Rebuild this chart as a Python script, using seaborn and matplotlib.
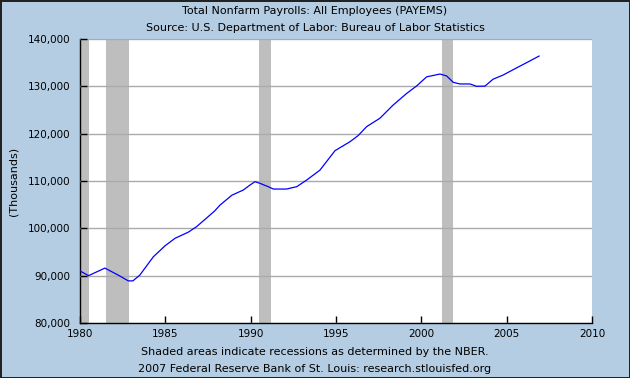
import matplotlib
matplotlib.use("Agg")
import matplotlib.pyplot as plt
import matplotlib.ticker as mticker
import seaborn as sns
import pandas as pd

# Payroll employment (thousands)
years = [1980.0, 1980.5, 1981.46, 1982.25, 1982.83, 1983.1, 1983.5, 1984.3, 1984.98,
         1985.57, 1986.35, 1986.83, 1987.52, 1987.9, 1988.2, 1988.9, 1989.57, 1989.96,
         1990.25, 1990.55, 1991.03, 1991.33, 1992.1, 1992.7, 1993.28, 1994.06, 1994.94,
         1995.33, 1995.82, 1996.3, 1996.8, 1997.57, 1998.35, 1999.14, 1999.72, 2000.31,
         2001.09, 2001.48, 2001.87, 2002.26, 2002.85, 2003.24, 2003.73, 2004.2, 2004.8,
         2005.58, 2006.17, 2006.9]
payems = [91.0, 90.0, 91.6, 90.1, 88.9, 88.9, 90.1, 94.0, 96.3,
          97.9, 99.2, 100.35, 102.5, 103.7, 104.9, 107.0, 108.1, 109.15,
          109.85, 109.5, 108.8, 108.3, 108.3, 108.8, 110.2, 112.3, 116.4,
          117.25, 118.3, 119.6, 121.5, 123.25, 126.05, 128.5, 130.07, 132.0,
          132.6, 132.2, 130.85, 130.5, 130.5, 130.0, 130.05, 131.5, 132.4,
          133.9, 135.0, 136.4]
payems = [v * 1000 for v in payems]

# NBER recessions (start, end)
rec_start = [1980.0, 1981.5, 1990.5, 2001.2]
rec_end = [1980.5, 1982.85, 1991.2, 2001.87]

df = pd.DataFrame({"year": years, "payems": payems})

bg = "#b4cde3"
plt.rcParams["font.family"] = ["DejaVu Sans"]
fig = plt.figure(figsize=(6.3, 3.78), dpi=100, facecolor=bg)
fig.patch.set_edgecolor("#222222")
fig.patch.set_linewidth(1)
ax = fig.add_axes([80 / 630, 1 - 323 / 378, 512 / 630, 284 / 378])
ax.set_facecolor("white")

for s, e in zip(rec_start, rec_end):
    ax.axvspan(s, e, color="#bebebe", lw=0, zorder=1)

ax.set_ylim(80000, 140000)
ax.set_xlim(1980, 2010)
ax.yaxis.set_major_locator(mticker.MultipleLocator(10000))
ax.xaxis.set_major_locator(mticker.MultipleLocator(5))
ax.grid(axis="y", color="#aaaaaa", lw=1, zorder=2)
ax.set_axisbelow(False)

sns.lineplot(data=df, x="year", y="payems", ax=ax, color="#0000ff", lw=0.9, zorder=3)

ax.yaxis.set_major_formatter(mticker.FuncFormatter(lambda v, p: f"{int(v):,}"))
ax.tick_params(direction="in", length=5, width=1, labelsize=7.5, color="black")
ax.tick_params(axis="x", pad=4)
ax.tick_params(axis="y", pad=7)
for side in ["top", "right"]:
    ax.spines[side].set_visible(False)
for side in ["left", "bottom"]:
    ax.spines[side].set_color("black")
    ax.spines[side].set_linewidth(1)
ax.set_xlabel("")
ax.set_ylabel("(Thousands)", fontsize=8)
ax.yaxis.set_label_coords(-0.12, 0.5)

fig.text(0.5, 1 - 11 / 378, "Total Nonfarm Payrolls: All Employees (PAYEMS)",
         ha="center", va="center", fontsize=8)
fig.text(0.5, 1 - 28 / 378, "Source: U.S. Department of Labor: Bureau of Labor Statistics",
         ha="center", va="center", fontsize=8)
fig.text(0.5, 1 - 352 / 378, "Shaded areas indicate recessions as determined by the NBER.",
         ha="center", va="center", fontsize=8)
fig.text(0.5, 1 - 369 / 378, "2007 Federal Reserve Bank of St. Louis: research.stlouisfed.org",
         ha="center", va="center", fontsize=8)

fig.savefig("out.png", dpi=100, facecolor=bg, edgecolor=fig.patch.get_edgecolor())
